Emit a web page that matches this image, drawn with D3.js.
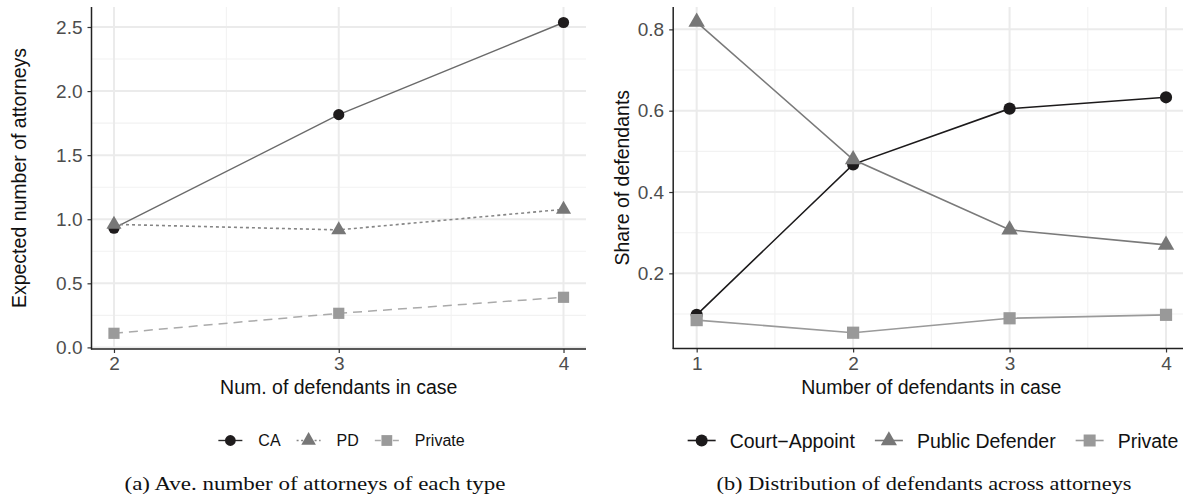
<!DOCTYPE html>
<html>
<head>
<meta charset="utf-8">
<script src="https://cdn.jsdelivr.net/npm/d3@7"></script>
<style>
  html, body { margin: 0; padding: 0; background: #fff; }
  svg { display: block; }
  text { font-family: "Liberation Sans", Arial, Helvetica, sans-serif; }
</style>
</head>
<body>
<svg id="chart" width="1183" height="497"></svg>
<script>
// ---------------- data ----------------
const leftX = [2, 3, 4];
const leftCA = [0.93, 1.816, 2.535];
const leftPD = [0.96, 0.917, 1.077];
const leftPrivate = [0.11, 0.266, 0.391];
const leftXTicks = [2, 3, 4];
const leftYTicks = [0.0, 0.5, 1.0, 1.5, 2.0, 2.5];
const leftSeriesNames = ["CA", "PD", "Private"];

const rightX = [1, 2, 3, 4];
const rightCourt = [0.098, 0.468, 0.605, 0.633];
const rightPD = [0.818, 0.48, 0.307, 0.27];
const rightPrivate = [0.085, 0.054, 0.0895, 0.098];
const rightXTicks = [1, 2, 3, 4];
const rightYTicks = [0.2, 0.4, 0.6, 0.8];
const rightSeriesNames = ["Court\u2212Appoint", "Public Defender", "Private"];

const captions = ["(a) Ave. number of attorneys of each type", "(b) Distribution of defendants across attorneys"];

// ---------------- drawing ----------------
const svg = d3.select("#chart");
const FONT = '"Liberation Sans", Arial, Helvetica, sans-serif';

function symbolPath(shape, cx, cy, r) {
  if (shape === "circle") {
    return `M${cx - r},${cy}a${r},${r} 0 1,0 ${2 * r},0a${r},${r} 0 1,0 ${-2 * r},0Z`;
  } else if (shape === "triangle") {
    const t0 = Math.sqrt(4 * Math.PI / (3 * Math.sqrt(3)));
    const rr = t0 * r, xc = t0 * Math.sqrt(3) / 2 * r, yc = t0 / 2 * r;
    return `M${cx},${cy - rr}L${cx + xc},${cy + yc}L${cx - xc},${cy + yc}Z`;
  } else {
    return `M${cx - r},${cy - r}h${2 * r}v${2 * r}h${-2 * r}Z`;
  }
}

function panel(cfg) {
  const g = svg.append("g");
  const x = d3.scaleLinear().domain(cfg.xDomain).range(cfg.xRange);
  const y = d3.scaleLinear().domain(cfg.yDomain).range(cfg.yRange);
  const [x0, x1] = cfg.xRange, [y0, y1] = cfg.yRange; // y0 bottom, y1 top

  // minor grid
  g.selectAll(".minY").data(cfg.yMinor).join("line")
    .attr("x1", x0).attr("x2", x1).attr("y1", d => y(d)).attr("y2", d => y(d))
    .attr("stroke", "#f2f2f2").attr("stroke-width", 1.1);
  g.selectAll(".minX").data(cfg.xMinor).join("line")
    .attr("y1", y0).attr("y2", y1).attr("x1", d => x(d)).attr("x2", d => x(d))
    .attr("stroke", "#f2f2f2").attr("stroke-width", 1.1);
  // major grid
  g.selectAll(".majY").data(cfg.yTicks).join("line")
    .attr("x1", x0).attr("x2", x1).attr("y1", d => y(d)).attr("y2", d => y(d))
    .attr("stroke", "#ebebeb").attr("stroke-width", 2);
  g.selectAll(".majX").data(cfg.xTicks).join("line")
    .attr("y1", y0).attr("y2", y1).attr("x1", d => x(d)).attr("x2", d => x(d))
    .attr("stroke", "#ebebeb").attr("stroke-width", 2);

  // lines
  cfg.series.forEach(s => {
    const line = d3.line().x((d, i) => x(cfg.xs[i])).y(d => y(d));
    g.append("path").datum(s.values).attr("d", line)
      .attr("fill", "none").attr("stroke", s.lineColor)
      .attr("stroke-width", s.lineWidth || cfg.lineWidth)
      .attr("stroke-dasharray", s.dash || null);
  });
  // points
  cfg.series.forEach(s => {
    g.selectAll(null).data(s.values).join("path")
      .attr("d", (d, i) => symbolPath(s.shape, x(cfg.xs[i]), y(d), cfg.r))
      .attr("fill", s.pointColor);
  });

  // axes
  const yAxis = d3.axisLeft(y).tickValues(cfg.yTicks).tickFormat(cfg.yFormat).tickSize(4).tickPadding(5);
  const gy = g.append("g").attr("transform", `translate(${x0},0)`).call(yAxis);
  const xAxis = d3.axisBottom(x).tickValues(cfg.xTicks).tickFormat(d3.format("d")).tickSize(4).tickPadding(4);
  const gx = g.append("g").attr("transform", `translate(0,${y0})`).call(xAxis);
  [gy, gx].forEach(a => {
    a.select(".domain").remove();
    a.selectAll(".tick line").attr("stroke", "#333").attr("stroke-width", 1.2);
    a.selectAll(".tick text").attr("fill", "#4d4d4d").style("font-size", "19px").style("font-family", FONT);
  });
  gx.selectAll(".tick text").attr("dy", "0.7em");
  g.append("line").attr("x1", x0).attr("x2", x0).attr("y1", y0 + 0.5).attr("y2", y1)
    .attr("stroke", "#222").attr("stroke-width", 1.5);
  g.append("line").attr("x1", x0 - 0.5).attr("x2", x1).attr("y1", y0).attr("y2", y0)
    .attr("stroke", "#222").attr("stroke-width", 1.5);

  // titles
  g.append("text").attr("x", (x0 + x1) / 2).attr("y", 394)
    .attr("text-anchor", "middle").style("font-size", "19.5px").attr("fill", "#111").text(cfg.xTitle);
  g.append("text").attr("transform", `translate(${cfg.yTitleX},${(y0 + y1) / 2}) rotate(-90)`)
    .attr("text-anchor", "middle").style("font-size", "19.5px").attr("fill", "#111").text(cfg.yTitle);

  // legend
  const lg = g.append("g");
  let cursor = 0;
  cfg.series.forEach(s => {
    const it = lg.append("g");
    it.append("line").attr("x1", cursor).attr("x2", cursor + cfg.keyW).attr("y1", 0).attr("y2", 0)
      .attr("stroke", s.keyLineColor || s.lineColor).attr("stroke-width", cfg.lineWidth)
      .attr("stroke-dasharray", s.keyDash || null);
    it.append("path").attr("d", symbolPath(s.shape, cursor + cfg.keyW / 2, 0, cfg.keyR)).attr("fill", s.pointColor);
    const t = it.append("text").attr("x", cursor + cfg.keyW + cfg.keyGap).attr("y", 0).attr("dy", "0.36em")
      .style("font-size", cfg.legendFont + "px").attr("fill", "#111").text(s.name);
    const w = t.node().getComputedTextLength();
    cursor += cfg.keyW + cfg.keyGap + w + cfg.itemGap;
  });
  const total = cursor - cfg.itemGap;
  lg.attr("transform", `translate(${cfg.legendCenter - total / 2},${cfg.legendY})`);

  // caption
  g.append("text").attr("x", cfg.captionX).attr("y", 490).attr("text-anchor", "middle")
    .style("font-family", '"Liberation Serif", "DejaVu Serif", serif').style("font-size", "18px")
    .attr("fill", "#111").attr("textLength", cfg.captionW).attr("lengthAdjust", "spacingAndGlyphs")
    .text(cfg.caption);
}

panel({
  xs: leftX,
  xDomain: [1.9, 4.1], xRange: [91.5, 586],
  yDomain: [-0.0125, 2.656], yRange: [349, 7],
  xTicks: leftXTicks, xMinor: [2.5, 3.5],
  yTicks: leftYTicks, yMinor: [0.25, 0.75, 1.25, 1.75, 2.25],
  yFormat: d3.format(".1f"),
  r: 5.6, lineWidth: 1.4,
  series: [
    { name: leftSeriesNames[0], values: leftCA, shape: "circle", pointColor: "#1f1c1d", lineColor: "#6a6a6a", keyLineColor: "#2a2a2a" },
    { name: leftSeriesNames[1], values: leftPD, shape: "triangle", pointColor: "#777777", lineColor: "#858585", dash: "3,3", keyDash: "2,2.5", lineWidth: 1.6 },
    { name: leftSeriesNames[2], values: leftPrivate, shape: "square", pointColor: "#9a9a9a", lineColor: "#aaaaaa", dash: "9,6", keyDash: "6,3", lineWidth: 1.5 }
  ],
  xTitle: "Num. of defendants in case",
  yTitle: "Expected number of attorneys", yTitleX: 26,
  keyW: 24, keyGap: 16, itemGap: 16, keyR: 5.4, legendFont: 16,
  legendCenter: 341.5, legendY: 440.5,
  caption: captions[0], captionX: 315, captionW: 381
});

panel({
  xs: rightX,
  xDomain: [0.85, 4.15], xRange: [673.2, 1189.5],
  yDomain: [0.0152, 0.855], yRange: [348.5, 7],
  xTicks: rightXTicks, xMinor: [1.5, 2.5, 3.5],
  yTicks: rightYTicks, yMinor: [0.1, 0.3, 0.5, 0.7],
  yFormat: d3.format(".1f"),
  r: 6.1, lineWidth: 1.6,
  series: [
    { name: rightSeriesNames[0], values: rightCourt, shape: "circle", pointColor: "#1c1a1b", lineColor: "#1c1a1b" },
    { name: rightSeriesNames[1], values: rightPD, shape: "triangle", pointColor: "#777777", lineColor: "#7a7a7a" },
    { name: rightSeriesNames[2], values: rightPrivate, shape: "square", pointColor: "#999999", lineColor: "#9a9a9a" }
  ],
  xTitle: "Number of defendants in case",
  yTitle: "Share of defendants", yTitleX: 629,
  keyW: 28, keyGap: 14, itemGap: 20, keyR: 6, legendFont: 19.5,
  legendCenter: 933, legendY: 440.5,
  caption: captions[1], captionX: 924, captionW: 415
});
</script>
</body>
</html>
